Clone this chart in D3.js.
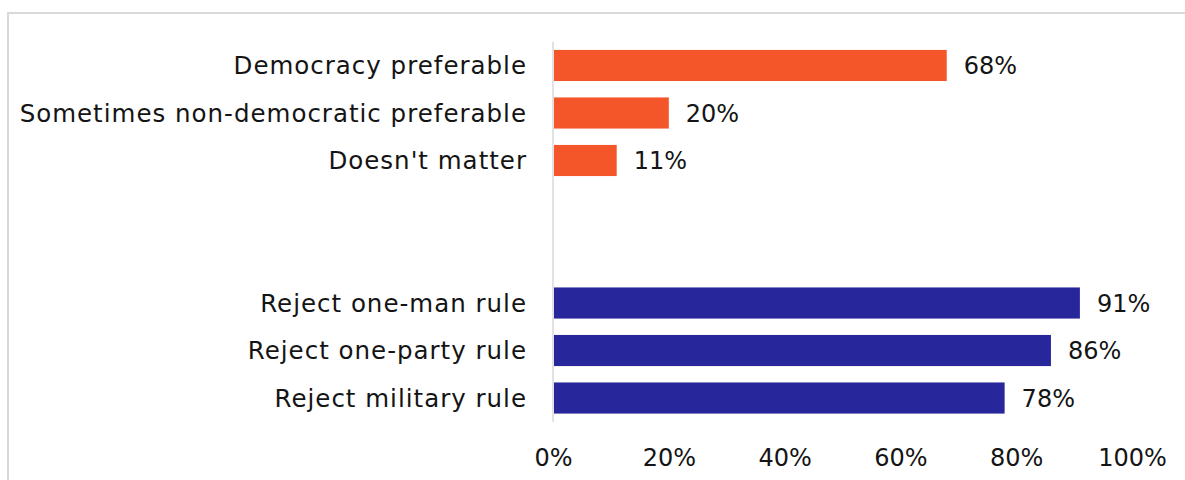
<!DOCTYPE html>
<html>
<head>
<meta charset="utf-8">
<script src="https://cdn.jsdelivr.net/npm/d3@7"></script>
<style>
  html, body { margin: 0; padding: 0; background: #ffffff; }
  svg { display: block; }
  text { font-family: "DejaVu Sans", "Open Sans", sans-serif; fill: #141414; }
</style>
</head>
<body>
<svg id="chart" width="1185" height="480"></svg>
<script>
// Attitudes toward democracy (share of respondents)
const preferenceCategories = ["Democracy preferable", "Sometimes non-democratic preferable", "Doesn't matter"];
const preferenceValues = [68, 20, 11];
const rejectCategories = ["Reject one-man rule", "Reject one-party rule", "Reject military rule"];
const rejectValues = [91, 86, 78];
const tickValues = [0, 20, 40, 60, 80, 100];
const tickLabels = ["0%", "20%", "40%", "60%", "80%", "100%"];

const colors = { preference: "#F4562A", reject: "#27269A" };

const svg = d3.select("#chart");
const W = 1185, H = 480;

// outer frame
svg.append("rect")
  .attr("x", 8).attr("y", 13)
  .attr("width", W + 10).attr("height", H + 10)
  .attr("fill", "none").attr("stroke", "#d9d9d9").attr("stroke-width", 2);

const margin = { left: 553, right: 53, top: 41.75, bottom: 58.25 };

// two empty slots separate the two groups
const rows = [
  ...preferenceCategories.map((c, i) => ({ key: c, label: c, value: preferenceValues[i], group: "preference" })),
  { key: "__gap1", label: null }, { key: "__gap2", label: null },
  ...rejectCategories.map((c, i) => ({ key: c, label: c, value: rejectValues[i], group: "reject" }))
];

const x = d3.scaleLinear().domain([0, 100]).range([margin.left, W - margin.right]);
const y = d3.scaleBand().domain(rows.map(d => d.key))
  .range([margin.top, H - margin.bottom]).paddingInner(0.345).paddingOuter(0.172);

const fontSize = 24;
const bars = rows.filter(d => d.label !== null);

svg.append("g").selectAll("rect").data(bars).join("rect")
  .attr("x", x(0) + 1)
  .attr("y", d => y(d.key))
  .attr("width", d => x(d.value) - x(0) - 1)
  .attr("height", y.bandwidth())
  .attr("fill", d => colors[d.group]);

// vertical category axis line
svg.append("line")
  .attr("x1", x(0)).attr("x2", x(0))
  .attr("y1", margin.top).attr("y2", H - margin.bottom)
  .attr("stroke", "#d9d9d9").attr("stroke-width", 1.5);

// category labels
svg.append("g").selectAll("text").data(bars).join("text")
  .attr("x", x(0) - 26)
  .attr("y", d => y(d.key) + y.bandwidth() / 2)
  .attr("dy", "0.36em")
  .attr("text-anchor", "end")
  .style("font-size", "24.5px")
  .style("letter-spacing", "1px")
  .text(d => d.label);

// value labels
svg.append("g").selectAll("text").data(bars).join("text")
  .attr("x", d => x(d.value) + 17)
  .attr("y", d => y(d.key) + y.bandwidth() / 2)
  .attr("dy", "0.36em")
  .style("font-size", fontSize + "px")
  .text(d => d.value + "%");

// value axis
const xAxis = d3.axisBottom(x).tickValues(tickValues)
  .tickFormat((d, i) => tickLabels[i]).tickSize(0).tickPadding(0);
const gx = svg.append("g").attr("transform", `translate(0, 466)`).call(xAxis);
gx.select(".domain").remove();
gx.selectAll("text")
  .attr("y", 0).attr("dy", 0)
  .style("font-size", fontSize + "px")
  .style("font-family", null);
</script>
</body>
</html>
